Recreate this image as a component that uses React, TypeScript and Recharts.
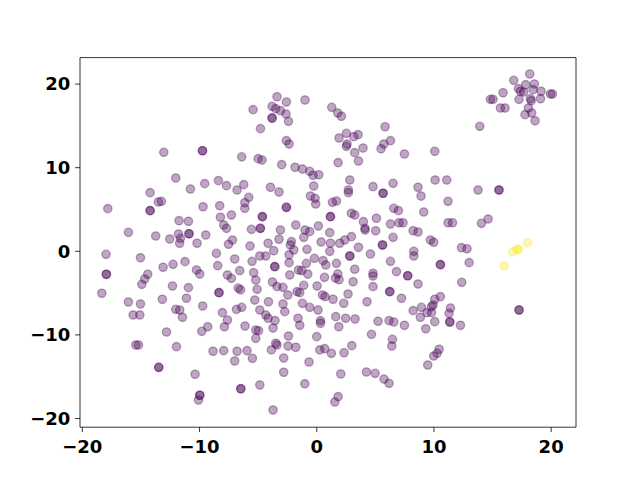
import React from 'react';
import { ScatterChart, Scatter, XAxis, YAxis, ReferenceArea } from 'recharts';

const X_DOMAIN: [number, number] = [-20.2, 22.12];
const Y_DOMAIN: [number, number] = [-21.04, 23.17];
const X_TICKS = [-20, -10, 0, 10, 20];
const Y_TICKS = [-20, -10, 0, 10, 20];

const PURPLE = '#440154';
const YELLOW = '#fde725';

// cluster 0 (purple)
const purplePoints: [number, number][] = [
  [-13.05, 11.84], [-9.75, 12.03], [-9.75, 12.03], [-6.4, 11.3], [-12.03, 8.77], [-9.56, 8.09], [-8.39, 8.45],
  [-5.43, 16.94], [-3.39, 18.49], [-3.81, 17.34], [-3.5, 17.06], [-3.1, 16.82], [-2.59, 17.86], [-2.62, 16.42],
  [-3.81, 15.94], [-3.81, 15.94], [-2.41, 15.55], [-1.0, 18.1], [-4.8, 14.67], [1.28, 17.22], [1.79, 16.54],
  [2.1, 16.15], [-2.59, 13.23], [-2.36, 12.83], [1.9, 13.55], [2.53, 14.11], [3.16, 13.71], [3.53, 13.95],
  [2.59, 12.83], [2.53, 12.56], [3.95, 12.36], [3.24, 11.8], [3.56, 10.8], [5.83, 14.9], [6.29, 13.23],
  [5.72, 12.83], [5.49, 12.27], [7.48, 11.64], [-5.0, 11.08], [-4.67, 10.92], [-2.99, 10.36], [-1.85, 10.05],
  [-1.22, 9.84], [-0.6, 9.57], [-0.32, 9.09], [0.17, 9.16], [1.82, 10.6], [2.82, 8.53], [6.51, 8.13],
  [18.17, 21.21], [16.81, 20.45], [17.83, 19.93], [18.57, 20.01], [17.21, 19.45], [17.38, 19.14], [17.66, 19.06],
  [18.46, 19.33], [19.14, 19.14], [19.94, 18.82], [20.11, 18.82], [15.9, 18.97], [14.82, 18.18], [15.04, 18.18],
  [17.26, 18.18], [18.23, 18.25], [18.3, 18.01], [19.09, 18.25], [15.67, 17.14], [16.07, 17.14], [18.06, 17.14],
  [17.77, 16.34], [18.34, 16.54], [18.63, 15.62], [13.91, 14.95], [10.07, 11.96], [10.1, 8.53], [11.09, 8.53],
  [-10.78, 7.45], [-7.7, 7.85], [-6.8, 7.33], [-6.23, 7.97], [-14.22, 7.01], [-13.51, 5.9], [-13.25, 5.98],
  [-17.83, 5.1], [-14.22, 4.86], [-14.22, 4.86], [-9.7, 5.33], [-8.28, 5.45], [-11.75, 3.66], [-10.95, 3.59],
  [-8.22, 4.07], [-7.28, 4.34], [-7.94, 3.15], [-7.7, 2.75], [-16.07, 2.27], [-13.74, 1.83], [-12.54, 1.47],
  [-11.8, 2.07], [-11.63, 1.55], [-11.7, 0.96], [-10.9, 2.1], [-10.9, 2.1], [-10.21, 0.96], [-9.47, 1.95],
  [-7.19, 1.35], [-7.53, 0.84], [-8.56, -0.24], [-7.0, -0.92], [-17.98, -0.36], [-15.04, -0.77], [-17.95, -2.75],
  [-17.95, -2.75], [-13.11, -1.91], [-12.26, -1.56], [-11.24, -1.24], [-10.26, -2.24], [-9.98, -2.72],
  [-8.45, -1.72], [-6.57, -2.32], [-7.62, -2.83], [-7.28, -3.23], [-14.42, -2.75], [-14.68, -3.31],
  [-14.93, -3.95], [-18.34, -5.02], [-12.31, -4.15], [-10.95, -4.35], [-8.34, -4.95], [-8.34, -4.95],
  [-6.7, -4.4], [-6.5, -4.6], [-16.07, -6.06], [-15.04, -6.3], [-13.17, -5.74], [-11.12, -5.62],
  [-15.67, -7.62], [-15.1, -7.62], [-12.03, -6.94], [-11.69, -7.02], [-11.46, -7.89], [-9.73, -6.54],
  [-8.05, -7.34], [-7.62, -8.22], [-7.88, -9.02], [-6.85, -6.94], [-6.4, -6.7], [-6.12, -8.94], [-9.3, -9.02],
  [-9.81, -9.57], [-12.82, -9.65], [-15.44, -11.21], [-15.21, -11.21], [-11.97, -11.41], [-8.85, -11.96],
  [-7.94, -11.89], [-6.8, -11.96], [-7.0, -13.12], [-13.48, -13.88], [-13.48, -13.88], [-10.38, -14.71],
  [-9.98, -17.22], [-9.98, -17.22], [-10.09, -17.79], [-6.48, -16.44], [-6.48, -16.44],
  [-3.95, 7.66], [-3.22, 7.09], [-0.26, 7.81], [-0.54, 6.61], [-0.14, 6.34], [-0.09, 5.66], [1.34, 5.86],
  [1.68, 6.02], [2.7, 7.01], [2.7, 7.33], [4.8, 7.73], [5.66, 6.94], [5.66, 6.94], [-5.8, 6.46], [-6.14, 5.81],
  [-6.14, 5.14], [-2.59, 5.26], [-2.59, 5.26], [-4.64, 4.14], [-4.64, 4.14], [-4.81, 2.75], [-4.81, 2.75],
  [-5.57, 2.63], [-3.1, 2.55], [-1.79, 3.15], [-1.0, 2.55], [-0.6, 2.35], [0.14, 3.03], [1.17, 4.14], [1.17, 4.14],
  [2.96, 4.55], [3.24, 4.34], [3.98, 3.54], [4.12, 2.75], [4.12, 2.55], [5.09, 3.95], [5.03, 2.46], [6.57, 5.14],
  [6.97, 4.86], [6.29, 3.27], [7.02, 3.42], [7.36, 3.42], [6.51, 1.67], [-5.69, 0.63], [-5.52, -1.2],
  [-4.86, -0.56], [-4.35, -0.56], [-4.15, 0.96], [-3.67, 0.07], [-3.22, 1.44], [-2.16, 1.15], [-2.25, 0.75],
  [-1.96, 0.16], [-2.36, -0.41], [-2.36, -1.36], [-3.58, -1.84], [-3.58, -1.84], [-1.11, 1.67], [-0.83, 0.24],
  [-0.88, -1.44], [0.37, 1.11], [-0.2, -0.84], [0.54, -1.12], [0.77, -1.64], [1.11, 2.23], [1.17, 0.96],
  [1.11, 0.0], [1.68, -1.44], [1.96, 0.96], [2.39, 1.35], [2.96, 1.75], [2.82, -0.56], [2.82, -0.56],
  [3.56, 0.48], [4.58, -0.32], [5.61, 0.75], [5.61, 0.75], [6.29, -1.2], [3.24, -2.15], [4.8, -2.63],
  [4.8, -2.95], [6.8, -2.44], [-5.38, -2.56], [-5.2, -3.43], [-3.78, -3.67], [-3.39, -4.23], [-2.3, -2.83],
  [-1.56, -2.24], [-1.28, -2.32], [-0.77, -2.72], [0.66, -3.11], [1.8, -2.7], [1.9, -3.4], [1.6, -3.2],
  [3.1, -3.64], [-5.09, -4.55], [-2.88, -4.31], [-2.47, -5.23], [-1.68, -4.83], [-1.45, -4.95], [-1.11, -4.07],
  [0.03, -4.15], [0.49, -5.23], [0.71, -5.43], [1.39, -5.74], [2.67, -5.11], [4.29, -6.03], [4.8, -4.23],
  [6.23, -4.83], [6.23, -4.83], [7.23, -5.62], [-4.12, -6.03], [-2.88, -6.3], [-5.29, -5.83], [-1.22, -6.22],
  [2.3, -6.22],
  [8.64, 7.66], [8.9, 6.61], [13.76, 7.33], [15.55, 7.33], [15.55, 7.33], [11.2, 5.98], [9.13, 4.7],
  [11.2, 3.42], [11.58, 3.42], [14.05, 3.35], [14.62, 3.86], [8.22, 2.46], [8.64, 2.31], [9.7, 1.35],
  [9.98, 1.08], [8.28, 0.0], [8.28, -0.56], [12.35, 0.43], [12.82, 0.31], [13.0, -1.36], [10.55, -1.6],
  [10.55, -1.6], [7.76, -2.92], [7.76, -2.92], [8.64, -3.91], [12.37, -3.71], [10.07, -5.74], [10.55, -5.43],
  [8.22, -7.1], [8.93, -6.7], [8.84, -7.89], [9.79, -6.63], [9.93, -6.42], [9.41, -7.34], [9.79, -7.34],
  [10.07, -8.42], [7.48, -8.85], [9.3, -9.26], [11.41, -6.78], [11.29, -7.42], [11.35, -8.46], [11.35, -8.46],
  [12.26, -8.85], [17.26, -7.02], [17.26, -7.02], [10.44, -11.72], [10.27, -12.2], [9.98, -12.52], [9.47, -13.6],
  [-2.73, -7.22], [-4.86, -7.02], [-4.35, -7.62], [-4.15, -8.01], [-3.56, -8.3], [-3.73, -9.17], [-5.2, -9.41],
  [-4.97, -9.5], [-5.2, -10.41], [-0.6, -6.7], [0.11, -7.02], [-1.6, -8.01], [-1.45, -8.85], [0.32, -8.3],
  [0.32, -8.61], [1.62, -7.82], [2.47, -8.01], [3.27, -8.1], [1.88, -9.02], [5.23, -8.37], [6.17, -8.3],
  [6.57, -8.46], [4.67, -9.93], [6.46, -10.53], [6.4, -11.33], [-2.41, -10.13], [-3.5, -11.0], [-3.39, -11.21],
  [-3.87, -11.8], [-2.45, -11.33], [-1.79, -11.48], [-2.82, -12.76], [-2.82, -14.47], [0.0, -10.21],
  [0.26, -11.8], [0.68, -11.65], [1.25, -12.2], [2.33, -12.13], [2.99, -11.29], [-0.66, -13.24], [-5.95, -11.89],
  [-5.49, -12.8], [-4.86, -15.99], [-1.02, -15.84], [2.05, -14.68], [4.24, -14.44], [4.98, -14.6], [5.74, -15.28],
  [6.17, -15.79], [1.82, -17.39], [1.54, -18.03], [-3.73, -18.98],
];

// cluster 1 (yellow)
const yellowPoints: [number, number][] = [
  [15.98, -1.76], [16.75, -0.05], [17.09, 0.24], [17.24, 0.24], [18.0, 1.03],
];

const toData = (pts: [number, number][]) => pts.map(([x, y]) => ({ x, y }));
const purpleData = toData(purplePoints);
const yellowData = toData(yellowPoints);

const makeShape = (color: string) => (props: any) => (
  <circle
    cx={props.cx}
    cy={props.cy}
    r={4.17}
    fill={color}
    fillOpacity={0.35}
    stroke={color}
    strokeOpacity={0.35}
    strokeWidth={1.33}
  />
);

const fmt = (v: number) => (v < 0 ? '\u2212' + Math.abs(v) : String(v));
const tickStyle = { fill: '#000', fontSize: 18, fontWeight: 'bold', fontFamily: 'DejaVu Sans' } as any;

export default function App() {
  return (
    <div style={{ position: 'absolute', left: 0, top: 0, width: 640, height: 480, background: '#fff' }}>
      <ScatterChart width={640} height={480} margin={{ top: 57.6, right: 64, bottom: 12.8, left: 20 }}>
        <XAxis
          type="number"
          dataKey="x"
          domain={X_DOMAIN}
          ticks={X_TICKS}
          allowDataOverflow
          height={40}
          axisLine={false}
          tickLine={{ stroke: '#000', strokeWidth: 0.8 }}
          tickSize={4.86}
          tickMargin={8.5}
          tick={tickStyle}
          tickFormatter={fmt}
          interval={0}
        />
        <YAxis
          type="number"
          dataKey="y"
          domain={Y_DOMAIN}
          ticks={Y_TICKS}
          allowDataOverflow
          width={60}
          axisLine={false}
          tickLine={{ stroke: '#000', strokeWidth: 0.8 }}
          tickSize={4.86}
          tickMargin={4.86}
          tick={tickStyle}
          tickFormatter={fmt}
          interval={0}
        />
        <ReferenceArea
          x1={X_DOMAIN[0]}
          x2={X_DOMAIN[1]}
          y1={Y_DOMAIN[0]}
          y2={Y_DOMAIN[1]}
          fill="none"
          fillOpacity={0}
          stroke="#000"
          strokeWidth={0.8}
          ifOverflow="visible"
        />
        <Scatter data={purpleData} shape={makeShape(PURPLE)} isAnimationActive={false} />
        <Scatter data={yellowData} shape={makeShape(YELLOW)} isAnimationActive={false} />
      </ScatterChart>
    </div>
  );
}
